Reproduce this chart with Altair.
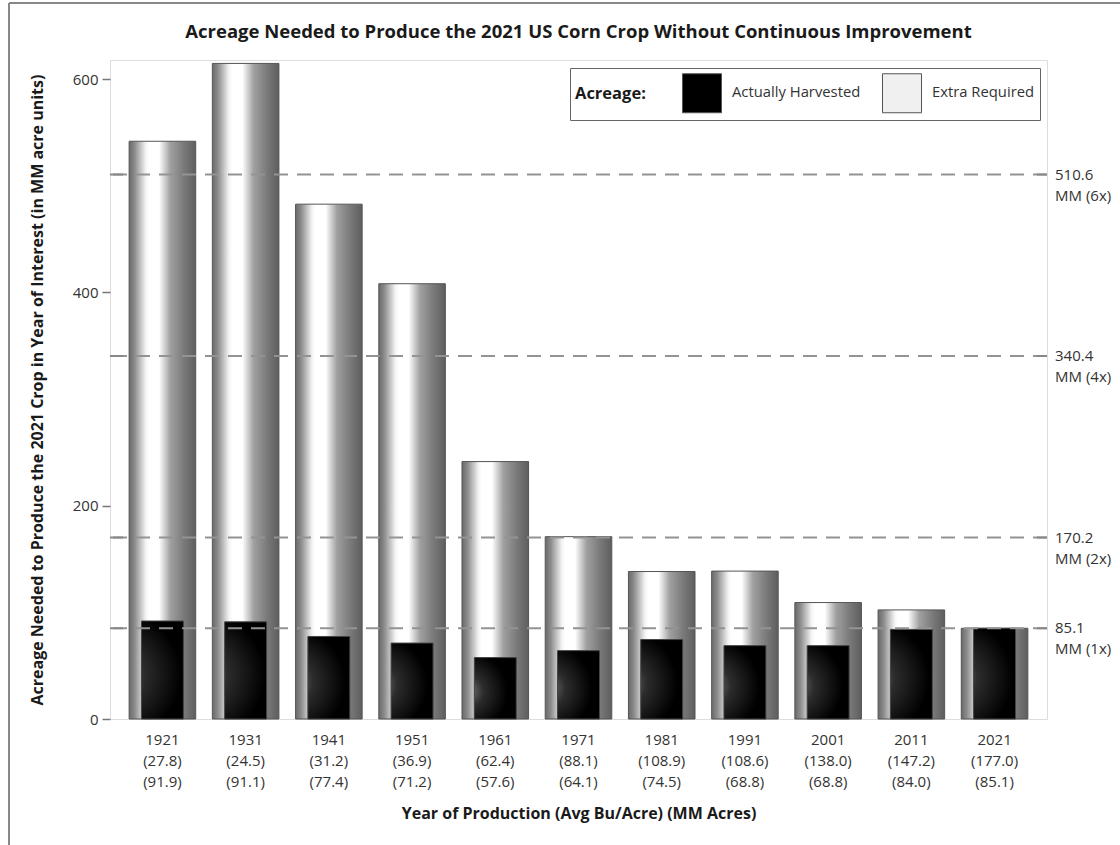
import altair as alt
import pandas as pd

years = ["1921", "1931", "1941", "1951", "1961", "1971", "1981", "1991", "2001", "2011", "2021"]
yields = [27.8, 24.5, 31.2, 36.9, 62.4, 88.1, 108.9, 108.6, 138.0, 147.2, 177.0]
harvested = [91.9, 91.1, 77.4, 71.2, 57.6, 64.1, 74.5, 68.8, 68.8, 84.0, 85.1]
needed = [541.8, 614.8, 482.8, 408.2, 241.4, 171.0, 138.3, 138.7, 109.2, 102.3, 85.1]
ref_values = [85.1, 170.2, 340.4, 510.6]
ref_multiples = ["1x", "2x", "4x", "6x"]
legend_labels = ["Actually Harvested", "Extra Required"]
title_text = "Acreage Needed to Produce the 2021 US Corn Crop Without Continuous Improvement"

FONT = "Open Sans"
W, H = 937, 659

labels = [f"{y}\n({a:.1f})\n({b:.1f})" for y, a, b in zip(years, yields, harvested)]
bars = pd.DataFrame({"label": labels, "needed": needed, "harvested": harvested})
refs = pd.DataFrame({
    "value": ref_values,
    "text": [f"{v:.1f}\nMM ({m})" for v, m in zip(ref_values, ref_multiples)],
})
leg = pd.DataFrame({"kind": legend_labels, "label": [labels[0]] * 2, "v": [0, 0]})

yscale = alt.Scale(domain=[0, 618], nice=False, zero=True)
yaxis = alt.Axis(
    title="Acreage Needed to Produce the 2021 Crop in Year of Interest (in MM acre units)",
    values=[0, 200, 400, 600], grid=False, domain=False,
    tickSize=8, tickColor="#777", tickWidth=1.5, labelPadding=4,
    labelFont=FONT, labelFontSize=15, labelColor="#333",
    titleFont=FONT, titleFontSize=16, titleFontWeight="bold", titleColor="#1a1a1a",
    titleX=-73, titleY=H / 2, titleBaseline="middle", titleAngle=270,
)
xscale = alt.Scale(paddingInner=0.2, paddingOuter=0.23)
xaxis = alt.Axis(
    title="Year of Production (Avg Bu/Acre) (MM Acres)",
    labelExpr="split(datum.value, '\\n')", labelAngle=0,
    ticks=False, domain=False, labelPadding=13,
    labelFont=FONT, labelFontSize=15, labelLineHeight=21, labelColor="#333",
    titleFont=FONT, titleFontSize=16, titleFontWeight="bold", titleColor="#1a1a1a",
    titlePadding=16,
)


def xenc():
    return alt.X("label:N", sort=labels, scale=xscale, axis=xaxis)


def yenc(field):
    return alt.Y(f"{field}:Q", scale=yscale, axis=yaxis)


outer_grad = alt.LinearGradient(
    gradient="linear", x1=0, y1=0, x2=1, y2=0,
    stops=[
        alt.GradientStop(offset=0, color="#6a6a6a"),
        alt.GradientStop(offset=0.08, color="#8a8a8a"),
        alt.GradientStop(offset=0.25, color="#f4f4f4"),
        alt.GradientStop(offset=0.3, color="#ffffff"),
        alt.GradientStop(offset=0.45, color="#ffffff"),
        alt.GradientStop(offset=0.62, color="#a0a0a0"),
        alt.GradientStop(offset=0.82, color="#7a7a7a"),
        alt.GradientStop(offset=1, color="#5e5e5e"),
    ],
)
black_grad = alt.RadialGradient(
    gradient="radial", x1=0.05, y1=0.55, r1=0, x2=0.05, y2=0.55, r2=0.65,
    stops=[
        alt.GradientStop(offset=0, color="#777777"),
        alt.GradientStop(offset=0.4, color="#2c2c2c"),
        alt.GradientStop(offset=1, color="#000000"),
    ],
)

legend_layer = alt.Chart(leg).mark_square(opacity=0, size=1).encode(
    x=xenc(), y=yenc("v"),
    color=alt.Color(
        "kind:N",
        scale=alt.Scale(domain=legend_labels, range=["#000000", "#f0f0f0"]),
        legend=alt.Legend(
            orient="none", legendX=460, legendY=8, direction="horizontal",
            title="Acreage:", titleOrient="left", titleFont=FONT, titleFontSize=16.5,
            titleFontWeight="bold", titleColor="#1a1a1a", titlePadding=36,
            symbolType="square", symbolSize=1521, symbolStrokeColor="#555",
            symbolStrokeWidth=1, symbolOpacity=1,
            labelFont=FONT, labelFontSize=14.8, labelColor="#333", labelOffset=10,
            columnPadding=19, padding=5, strokeColor="#666", fillColor="white",
        ),
    ),
)

outer = alt.Chart(bars).mark_bar(color=outer_grad, stroke="#555", strokeWidth=1).encode(
    x=xenc(), y=yenc("needed"),
)
inner = alt.Chart(bars).mark_bar(
    color=black_grad, stroke="#444", strokeWidth=1, width=alt.RelativeBandSize(0.63)
).encode(x=xenc(), y=yenc("harvested"))

ref_rules = alt.Chart(refs).mark_rule(color="#939393", strokeDash=[14, 9], strokeWidth=2).encode(
    y=yenc("value"),
)
ref_text = alt.Chart(refs).mark_text(
    align="left", baseline="middle", lineBreak="\n", lineHeight=21,
    font=FONT, fontSize=15, color="#333",
).encode(x=alt.value(W + 8), y=yenc("value"), text="text:N")
tick_left = alt.Chart(refs).mark_rule(color="#888", strokeWidth=2).encode(
    x=alt.value(0), x2=alt.value(13), y=yenc("value"),
)
tick_right = alt.Chart(refs).mark_rule(color="#888", strokeWidth=2).encode(
    x=alt.value(W - 10), x2=alt.value(W), y=yenc("value"),
)
frame = alt.Data(values=[{"t": title_text}])
border_top = alt.Chart(frame).mark_rule(color="#888", strokeWidth=2).encode(
    x=alt.value(-101), x2=alt.value(W + 80), y=alt.value(-57),
)
border_left = alt.Chart(frame).mark_rule(color="#888", strokeWidth=2).encode(
    x=alt.value(-101), y=alt.value(-57), y2=alt.value(H + 140),
)
title = alt.Chart(frame).mark_text(
    align="center", baseline="middle", font=FONT, fontSize=18.5, fontWeight="bold",
    color="#1a1a1a",
).encode(x=alt.value(W / 2), y=alt.value(-28), text="t:N")

chart = alt.layer(
    legend_layer, outer, inner, ref_rules, ref_text, tick_left, tick_right,
    border_top, border_left, title,
).properties(
    width=W, height=H,
    autosize=alt.AutoSizeParams(type="none"),
    padding={"left": 110, "top": 60, "right": 73, "bottom": 126},
).configure_view(stroke="#8c8c8c", strokeWidth=2).configure(background="white")

chart.save("out.html", embed_options={"renderer": "svg", "actions": False})
